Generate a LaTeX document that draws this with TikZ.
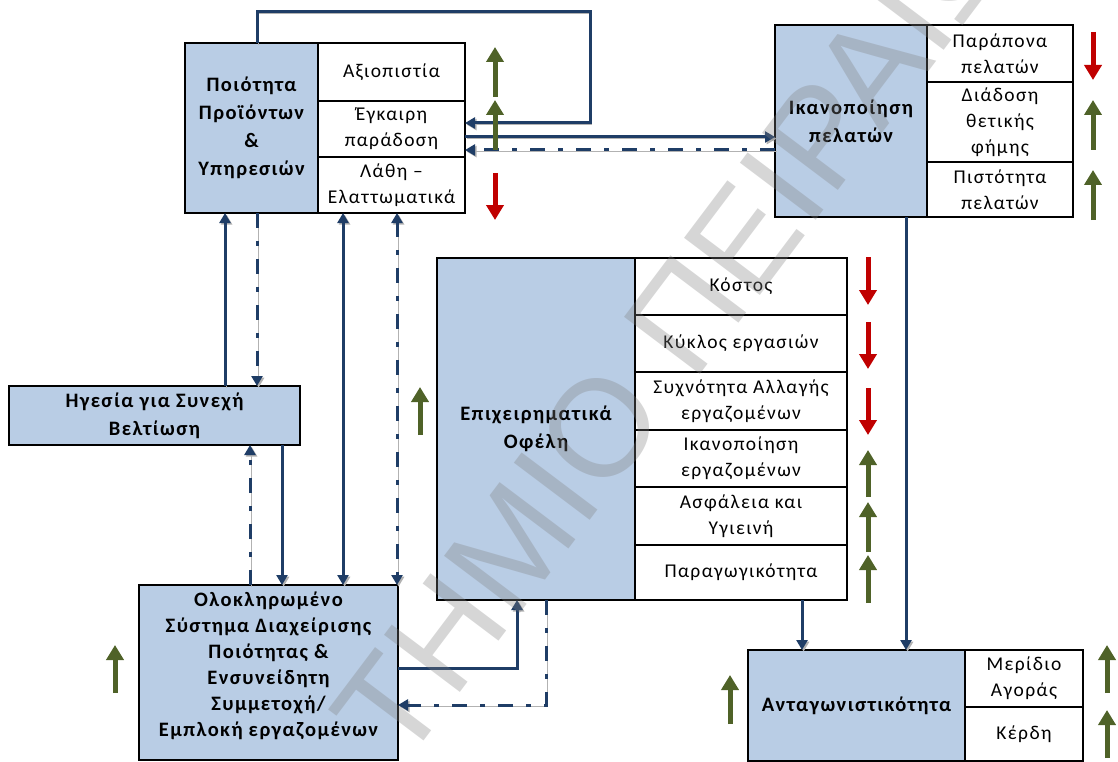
\documentclass[tikz,border=0pt]{standalone}
\usepackage{fontspec}
\setmainfont{Carlito}[LetterSpace=7]
\newfontfamily\wmfont{Liberation Sans}
\usetikzlibrary{arrows.meta}

\definecolor{boxblue}{HTML}{B9CDE5}
\definecolor{linknavy}{HTML}{1F3D66}
\definecolor{upgreen}{HTML}{4F6228}
\definecolor{downred}{HTML}{C00000}

\newcommand\dgboxfont{\bfseries\fontsize{20.5}{28}\selectfont}
\newcommand\dgcellfont{\fontsize{19.5}{26}\selectfont}

\tikzset{
  every node/.style={inner sep=0pt, outer sep=0pt},
  mainbox/.style={draw=black, line width=1.5pt, fill=boxblue, align=center, font=\dgboxfont},
  cellbox/.style={draw=black, line width=1.5pt, fill=white, align=center, font=\dgcellfont},
  conn/.style={draw=linknavy, line width=3pt,
    >={Triangle[length=10pt,width=11pt]},
    preaction={draw=black!30, transform canvas={shift={(1.6,1.6)}}}},
  dashdot/.style={dash pattern=on 15pt off 13pt on 5pt off 13pt},
  upind/.style={draw=upgreen, line width=5pt, -{Triangle[length=15pt,width=17pt]}},
  downind/.style={draw=downred, line width=5pt, -{Triangle[length=15pt,width=17pt]}},
  wm/.style={rotate=53, text=black!50, text opacity=0.32, font=\wmfont\fontsize{138}{138}\selectfont}
}

\begin{document}
\begin{tikzpicture}[x=1pt, y=-1pt]
\useasboundingbox (0,0) rectangle (1118,762);
\clip (0,0) rectangle (1118,762);

% Quality of products and services
\node[mainbox, minimum width=133, minimum height=170] (qual) at (251.5,128) {Ποιότητα\\Προϊόντων\\\&\\Υπηρεσιών};
\node[cellbox, minimum width=147, minimum height=58] (rel) at (391.5,72) {Αξιοπιστία};
\node[cellbox, minimum width=147, minimum height=56] (del) at (391.5,129) {Έγκαιρη\\παράδοση};
\node[cellbox, minimum width=147, minimum height=56] (err) at (391.5,185) {Λάθη –\\Ελαττωματικά};

% Customer satisfaction
\node[mainbox, minimum width=152, minimum height=192] (cust) at (851,121) {Ικανοποίηση\\πελατών};
\node[cellbox, minimum width=146, minimum height=57] (compl) at (1000,53.5) {Παράπονα\\πελατών};
\node[cellbox, minimum width=146, minimum height=80] (wom) at (1000,122) {Διάδοση\\θετικής\\φήμης};
\node[cellbox, minimum width=146, minimum height=55] (loy) at (1000,189.5) {Πιστότητα\\πελατών};

% Business benefits
\node[mainbox, minimum width=198, minimum height=342] (ben) at (536,429) {Επιχειρηματικά\\Οφέλη};
\node[cellbox, minimum width=212, minimum height=57] (cost) at (741,286.5) {Κόστος};
\node[cellbox, minimum width=212, minimum height=57] (cycle) at (741,343.5) {Κύκλος εργασιών};
\node[cellbox, minimum width=212, minimum height=58] (turn) at (741,401) {Συχνότητα Αλλαγής\\εργαζομένων};
\node[cellbox, minimum width=212, minimum height=57] (esat) at (741,458.5) {Ικανοποίηση\\εργαζομένων};
\node[cellbox, minimum width=212, minimum height=58] (safe) at (741,516) {Ασφάλεια και\\Υγιεινή};
\node[cellbox, minimum width=212, minimum height=55] (prod) at (741,572.5) {Παραγωγικότητα};

% Leadership
\node[mainbox, minimum width=291, minimum height=59] (lead) at (154.5,415.5) {Ηγεσία για Συνεχή\\Βελτίωση};

% Integrated quality management system (text set a little above the middle)
\node[mainbox, minimum width=259, minimum height=175] (iqms) at (268.5,672.5) {};
\node[font=\bfseries\fontsize{20.5}{26}\selectfont, align=center] (iqmstext) at (268.5,666)
  {Ολοκληρωμένο\\Σύστημα Διαχείρισης\\Ποιότητας \&\\Ενσυνείδητη\\Συμμετοχή/\\Εμπλοκή εργαζομένων};

% Competitiveness
\node[mainbox, minimum width=217, minimum height=111] (comp) at (856.5,705.5) {Ανταγωνιστικότητα};
\node[cellbox, minimum width=118, minimum height=57] (share) at (1024,678.5) {Μερίδιο\\Αγοράς};
\node[cellbox, minimum width=118, minimum height=54] (profit) at (1024,734) {Κέρδη};

% lanes and bends of the connectors
\coordinate (loopTL) at (257,12);
\coordinate (loopTR) at (590,12);
\coordinate (loopBR) at (590,123);
\coordinate (h137) at (0,137);
\coordinate (h150) at (0,150);
\coordinate (v225) at (225,0);
\coordinate (v257) at (257,0);
\coordinate (v343) at (343,0);
\coordinate (v397) at (397,0);
\coordinate (v250) at (250,0);
\coordinate (v282) at (282,0);
\coordinate (bendA) at (517,668);
\coordinate (bendB) at (546,705);
\coordinate (v802) at (802,0);
\coordinate (v906) at (906,0);

% connectors
\draw[conn,->] (qual.north -| loopTL) -- (loopTL) -- (loopTR) -- (loopBR) -- (del.east |- loopBR);
\draw[conn,->] (del.east |- h137) -- (cust.west |- h137);
\draw[conn,dashdot,->] (cust.west |- h150) -- (del.east |- h150);

\draw[conn,->] (lead.north -| v225) -- (qual.south -| v225);
\draw[conn,dashdot,->] (qual.south -| v257) -- (lead.north -| v257);
\draw[conn,<->] (err.south -| v343) -- (iqms.north -| v343);
\draw[conn,dashdot,<->] (err.south -| v397) -- (iqms.north -| v397);
\draw[conn,dashdot,->] (iqms.north -| v250) -- (lead.south -| v250);
\draw[conn,->] (lead.south -| v282) -- (iqms.north -| v282);

\draw[conn,->] (iqms.east |- bendA) -- (bendA) -- (ben.south -| bendA);
\draw[conn,dashdot,->] (ben.south -| bendB) -- (bendB) -- (iqms.east |- bendB);

\draw[conn,->] (prod.south -| v802) -- (comp.north -| v802);
\draw[conn,->] (cust.south -| v906) -- (comp.north -| v906);

% trend arrows
\draw[upind] (495,97) -- (495,47);
\draw[upind] (495,150) -- (495,100);
\draw[downind] (495,173) -- (495,220);

\draw[downind] (1093,32) -- (1093,80);
\draw[upind] (1093,150) -- (1093,100);
\draw[upind] (1093,220) -- (1093,170);

\draw[downind] (868,257) -- (868,305);
\draw[downind] (868,322) -- (868,369);
\draw[downind] (868,388) -- (868,435);
\draw[upind] (868,497) -- (868,450);
\draw[upind] (868,552) -- (868,502);
\draw[upind] (868,603) -- (868,555);

\draw[upind] (420,435) -- (420,387);
\draw[upind] (115,693) -- (115,645);
\draw[upind] (730,724) -- (730,675);
\draw[upind] (1107,693) -- (1107,645);
\draw[upind] (1107,758) -- (1107,710);

% watermark
\node[wm] (wmark) at (700,296) {ΤΗΜΙΟ ΠΕΙΡΑΙΩΣ};
\end{tikzpicture}
\end{document}
